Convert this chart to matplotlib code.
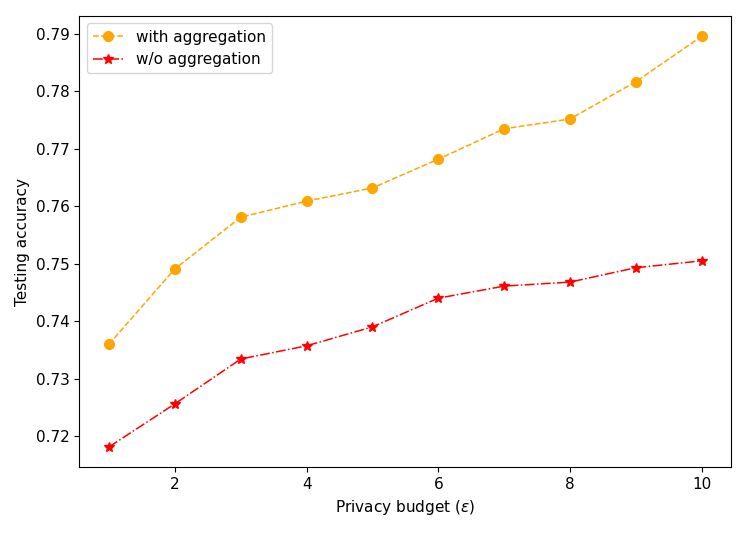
import matplotlib
matplotlib.use("Agg")
import matplotlib.pyplot as plt

# dados
budget = [1, 2, 3, 4, 5, 6, 7, 8, 9, 10]
acc_with = [0.7360, 0.7491, 0.7581, 0.7609, 0.7632, 0.7682, 0.7735, 0.7752, 0.7817, 0.7896]
acc_without = [0.7181, 0.7256, 0.7334, 0.7357, 0.7390, 0.7440, 0.7461, 0.7468, 0.7493, 0.7505]

plt.rcParams.update({
    "font.size": 11,
    "axes.labelsize": 11,
    "xtick.labelsize": 11,
    "ytick.labelsize": 11,
    "legend.fontsize": 11,
})

fig = plt.figure(figsize=(7.47, 5.34), dpi=100)
ax = fig.add_axes([0.1063, 0.1247, 0.979 - 0.1063, 0.9704 - 0.1247])

ax.plot(budget, acc_with, color="orange", linestyle="--", marker="o",
        markersize=7, linewidth=1.1, label="with aggregation")
ax.plot(budget, acc_without, color="red", linestyle="-.", marker="*",
        markersize=7, linewidth=1.1, label="w/o aggregation")

ax.set_xlabel(r"Privacy budget ($\epsilon$)")
ax.set_ylabel("Testing accuracy")
ax.legend(loc="upper left")

fig.savefig("out.png", dpi=100)
